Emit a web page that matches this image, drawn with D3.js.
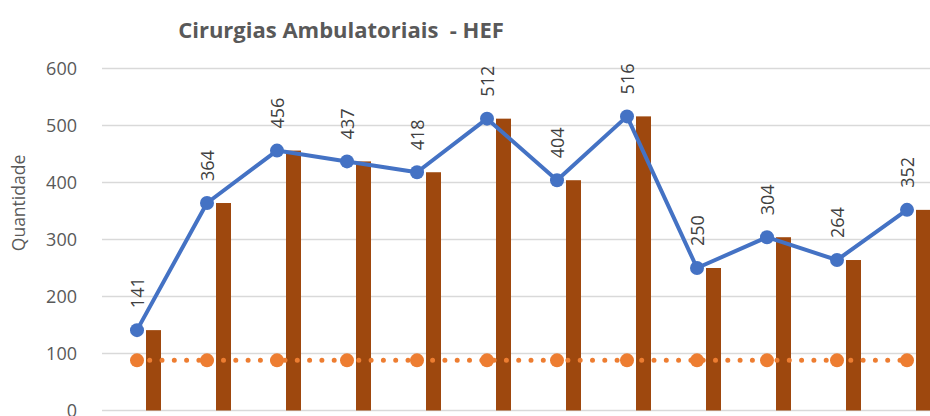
<!DOCTYPE html>
<html>
<head>
<meta charset="utf-8">
<script src="https://cdn.jsdelivr.net/npm/d3@7/dist/d3.min.js"></script>
<style>
  body { margin: 0; background: #fff; }
  text { font-family: "Open Sans", "Noto Sans", sans-serif; }
</style>
</head>
<body>
<div id="chart"></div>
<script>
// data
var meses = ["1", "2", "3", "4", "5", "6", "7", "8", "9", "10", "11", "12"];
var cirurgias = [141, 364, 456, 437, 418, 512, 404, 516, 250, 304, 264, 352];
var meta = [88, 88, 88, 88, 88, 88, 88, 88, 88, 88, 88, 88];
var yTicks = [0, 100, 200, 300, 400, 500, 600];

var width = 930, height = 416;
var margin = {top: 68.5, left: 102, bottom: 5.5};

var svg = d3.select("#chart").append("svg")
    .attr("width", width)
    .attr("height", height);

var x = d3.scaleBand().domain(meses).range([margin.left, margin.left + 70 * meses.length]);
var y = d3.scaleLinear().domain([0, 600]).range([height - margin.bottom, margin.top]);

function cx(d) { return x(d) + x.bandwidth() / 2; }

// gridlines
svg.append("g")
    .selectAll("line")
    .data(yTicks)
    .enter().append("line")
    .attr("x1", margin.left)
    .attr("x2", width)
    .attr("y1", function(d) { return y(d); })
    .attr("y2", function(d) { return y(d); })
    .style("stroke", "#d9d9d9")
    .style("stroke-width", 1.3);

// y axis labels
var yAxis = d3.axisLeft(y).tickValues(yTicks).tickSize(0).tickPadding(25);
svg.append("g")
    .attr("transform", "translate(" + margin.left + ",0)")
    .call(yAxis)
    .call(function(g) { g.select(".domain").remove(); })
    .selectAll("text")
    .style("font-family", "'Open Sans', sans-serif")
    .style("font-size", "18px")
    .style("fill", "#595959");

// bars
svg.append("g")
    .selectAll("rect")
    .data(cirurgias)
    .enter().append("rect")
    .attr("x", function(d, i) { return cx(meses[i]) + 9; })
    .attr("width", 15)
    .attr("y", function(d) { return y(d); })
    .attr("height", function(d) { return y(0) - y(d); })
    .style("fill", "#9e480e");

// orange dotted line
var lineMeta = d3.line()
    .x(function(d, i) { return cx(meses[i]); })
    .y(function(d) { return y(d); });

svg.append("path")
    .datum(meta)
    .attr("d", lineMeta)
    .style("fill", "none")
    .style("stroke", "#ed7d31")
    .style("stroke-width", 5)
    .style("stroke-linecap", "round")
    .style("stroke-dasharray", "0 12.3")
    .style("stroke-dashoffset", -12.7);

svg.append("g")
    .selectAll("circle")
    .data(meta)
    .enter().append("circle")
    .attr("cx", function(d, i) { return cx(meses[i]); })
    .attr("cy", function(d) { return y(d); })
    .attr("r", 7)
    .style("fill", "#ed7d31");

// blue line
var lineCir = d3.line()
    .x(function(d, i) { return cx(meses[i]); })
    .y(function(d) { return y(d); });

svg.append("path")
    .datum(cirurgias)
    .attr("d", lineCir)
    .style("fill", "none")
    .style("stroke", "#4472c4")
    .style("stroke-width", 4)
    .style("stroke-linejoin", "round");

svg.append("g")
    .selectAll("circle")
    .data(cirurgias)
    .enter().append("circle")
    .attr("cx", function(d, i) { return cx(meses[i]); })
    .attr("cy", function(d) { return y(d); })
    .attr("r", 7)
    .style("fill", "#4472c4");

// data labels
svg.append("g")
    .selectAll("text")
    .data(cirurgias)
    .enter().append("text")
    .attr("transform", function(d, i) {
        return "translate(" + (cx(meses[i]) + 6.5) + "," + (y(d) - 22) + ") rotate(-90)";
    })
    .attr("text-anchor", "start")
    .style("font-size", "18px")
    .style("fill", "#404040")
    .text(function(d) { return d; });

// y axis title
svg.append("text")
    .attr("transform", "translate(25,203) rotate(-90)")
    .attr("text-anchor", "middle")
    .style("font-size", "17.5px")
    .style("fill", "#595959")
    .text("Quantidade");

// title
svg.append("text")
    .attr("x", 341)
    .attr("y", 38)
    .attr("text-anchor", "middle")
    .style("font-size", "22px")
    .style("font-weight", "bold")
    .style("fill", "#595959")
    .style("white-space", "pre")
    .text("Cirurgias Ambulatoriais  - HEF");
</script>
</body>
</html>
